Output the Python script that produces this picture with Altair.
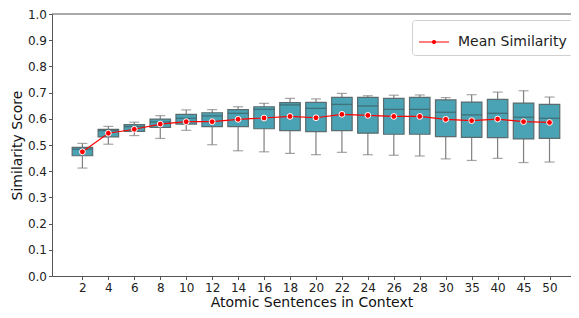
import altair as alt
import pandas as pd

categories = ["2", "4", "6", "8", "10", "12", "14", "16", "18", "20", "22", "24", "26", "28", "30", "35", "40", "45", "50"]
q1 = [0.459, 0.531, 0.552, 0.567, 0.580, 0.570, 0.570, 0.562, 0.555, 0.551, 0.555, 0.545, 0.541, 0.541, 0.532, 0.529, 0.528, 0.523, 0.525]
median = [0.484, 0.555, 0.570, 0.588, 0.602, 0.611, 0.621, 0.636, 0.653, 0.640, 0.655, 0.649, 0.636, 0.636, 0.625, 0.615, 0.621, 0.606, 0.602]
q3 = [0.491, 0.560, 0.578, 0.599, 0.617, 0.623, 0.635, 0.646, 0.662, 0.663, 0.682, 0.682, 0.678, 0.682, 0.672, 0.664, 0.674, 0.660, 0.655]
whisker_low = [0.412, 0.503, 0.536, 0.525, 0.556, 0.501, 0.478, 0.474, 0.468, 0.463, 0.472, 0.463, 0.461, 0.458, 0.447, 0.441, 0.449, 0.433, 0.435]
whisker_high = [0.506, 0.571, 0.587, 0.612, 0.634, 0.635, 0.646, 0.659, 0.678, 0.676, 0.697, 0.688, 0.690, 0.691, 0.681, 0.692, 0.702, 0.707, 0.683]
mean_sim = [0.474, 0.545, 0.560, 0.580, 0.589, 0.589, 0.598, 0.603, 0.609, 0.604, 0.617, 0.613, 0.609, 0.609, 0.598, 0.593, 0.599, 0.589, 0.586]
y_ticks = [0.0, 0.1, 0.2, 0.3, 0.4, 0.5, 0.6, 0.7, 0.8, 0.9, 1.0]

df = pd.DataFrame({
    "cat": categories,
    "q1": q1,
    "median": median,
    "q3": q3,
    "lo": whisker_low,
    "hi": whisker_high,
    "mean": mean_sim,
    "series": ["Mean Similarity"] * len(categories),
})

W, H = 519, 262
FONT = "DejaVu Sans"

xscale = alt.Scale(type="point", domain=categories, padding=1.132, align=0.586)
x = alt.X("cat:O", scale=xscale, sort=categories,
          axis=alt.Axis(title="Atomic Sentences in Context", labelAngle=0))
yscale = alt.Scale(domain=[0, 1], nice=False, zero=False)
yaxis = alt.Axis(title="Similarity Score", values=y_ticks, format=".1f", labelOverlap=False)


def Y(field):
    return alt.Y(field, scale=yscale, axis=yaxis)


base = alt.Chart(df)

whisk = base.mark_rule(color="#7f7f7f", strokeWidth=1.2).encode(x=x, y=Y("lo:Q"), y2="hi:Q")
cap_lo = base.mark_tick(color="#7f7f7f", size=10, thickness=1.2).encode(x=x, y=Y("lo:Q"))
cap_hi = base.mark_tick(color="#7f7f7f", size=10, thickness=1.2).encode(x=x, y=Y("hi:Q"))
box = base.mark_bar(size=20.5, color="#4aa3b4", stroke="#5b6b6e", strokeWidth=1.2).encode(
    x=x, y=Y("q1:Q"), y2="q3:Q"
)
med = base.mark_tick(color="#3d5a60", size=20.5, thickness=1.3).encode(x=x, y=Y("median:Q"))

color = alt.Color("series:N",
                  scale=alt.Scale(domain=["Mean Similarity"], range=["#ff0000"]),
                  legend=alt.Legend(
                      title=None, orient="none", legendX=360, legendY=6,
                      symbolType="M-1,0L1,0M-0.1,0a0.1,0.1 0 1,0 0.2,0a0.1,0.1 0 1,0 -0.2,0",
                      symbolSize=900, symbolStrokeWidth=1.2,
                      symbolFillColor="#ff0000", symbolStrokeColor="#ff0000",
                      labelFontSize=14, labelFont=FONT, labelColor="#222",
                      padding=6, strokeColor="#d0d0d0", fillColor="white", cornerRadius=3,
                      labelOffset=8,
                  ))
line = base.mark_line(strokeWidth=1.2).encode(x=x, y=Y("mean:Q"), color=color)
pts = base.mark_point(filled=True, size=34, stroke="white", strokeWidth=1, opacity=1).encode(
    x=x, y=Y("mean:Q"), color=color
)
top = alt.Chart(pd.DataFrame({"a": [0]})).mark_rule(color="#555", strokeWidth=1).encode(
    x=alt.value(0), x2=alt.value(W), y=alt.value(0)
)

chart = alt.layer(whisk, cap_lo, cap_hi, box, med, line, pts, top).properties(
    width=W, height=H,
    autosize=alt.AutoSizeParams(type="none"),
    padding={"left": 44, "top": 6, "right": 0, "bottom": 34},
).configure_view(stroke=None).configure_axis(
    grid=False, domainColor="#555", tickColor="#555", tickSize=3.5,
    labelFont=FONT, labelFontSize=12, labelColor="#222",
    titleFont=FONT, titleFontSize=14, titleFontWeight="normal", titleColor="#111",
).configure_axisY(titlePadding=3, labelPadding=2).configure_axisX(titlePadding=2, labelPadding=3)

chart.save("out.html", embed_options={"renderer": "svg", "actions": False})
